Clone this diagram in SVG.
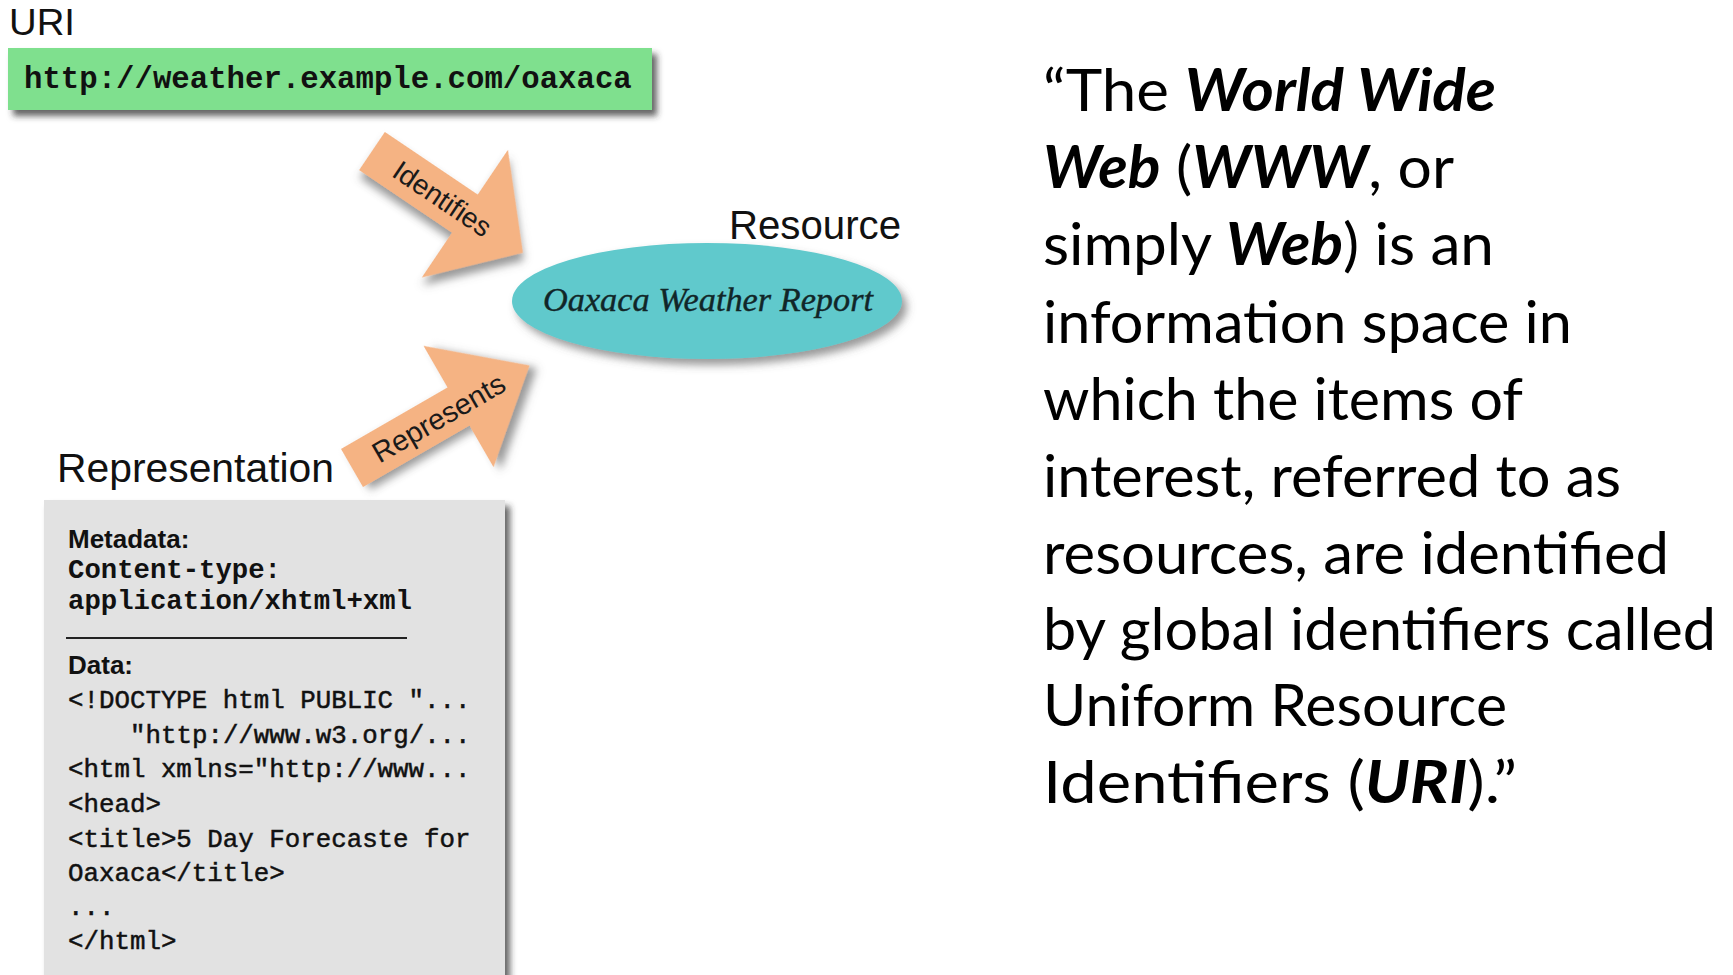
<svg xmlns="http://www.w3.org/2000/svg" width="1733" height="975" viewBox="0 0 1733 975">
  <defs>
    <filter id="shadow" x="-20%" y="-20%" width="150%" height="160%">
      <feDropShadow dx="5" dy="6" stdDeviation="3" flood-color="#333" flood-opacity="0.75"/>
    </filter>
    <filter id="softshadow" x="-20%" y="-20%" width="150%" height="160%">
      <feDropShadow dx="5" dy="6" stdDeviation="4" flood-color="#555" flood-opacity="0.6"/>
    </filter>
    <style>
      .lbl { font-family: "Liberation Sans", Arial, sans-serif; fill: #111; }
      .mono { font-family: "Liberation Mono", "Courier New", monospace; fill: #111; }
      .code { stroke: #111; stroke-width: 0.5; }
      .arrow { fill: #f5b383; filter: url(#softshadow); }
      .arrowtxt { font-family: "Liberation Sans", Arial, sans-serif; fill: #1a1a1a; text-anchor: middle; }
      .quote { font-family: Lato, "Open Sans", sans-serif; font-size: 59px; fill: #000; }
      .bi { font-weight: bold; font-style: italic; }
    </style>
  </defs>
  <rect width="1733" height="975" fill="#fff"/>

  <g id="node-uri">
    <text class="lbl" x="9" y="35" font-size="37" textLength="66" lengthAdjust="spacingAndGlyphs">URI</text>
    <rect x="8" y="48" width="644" height="62" fill="#7fe08e" filter="url(#shadow)"/>
    <text class="mono" x="24" y="88" font-size="30.7" font-weight="bold">http://weather.example.com/oaxaca</text>
  </g>

  <g id="node-resource">
    <text class="lbl" x="729" y="239" font-size="40" textLength="172" lengthAdjust="spacingAndGlyphs">Resource</text>
    <ellipse cx="707" cy="301" rx="195" ry="58" fill="#60c9cc" filter="url(#softshadow)"/>
    <text x="543" y="311" font-family="'Liberation Serif', 'Times New Roman', serif" font-style="italic" font-size="34" fill="#112628" stroke="#112628" stroke-width="0.4" textLength="330" lengthAdjust="spacingAndGlyphs">Oaxaca Weather Report</text>
  </g>

  <g id="node-representation">
    <text class="lbl" x="57" y="482" font-size="41" textLength="277" lengthAdjust="spacingAndGlyphs">Representation</text>
    <rect x="44" y="500" width="461" height="500" fill="#e2e2e2" filter="url(#shadow)"/>
    <text class="lbl" x="68" y="548" font-size="26" font-weight="bold">Metadata:</text>
    <text class="mono" x="68" y="578" font-size="27.3" font-weight="bold">Content-type:</text>
    <text class="mono" x="68" y="609" font-size="27.3" font-weight="bold">application/xhtml+xml</text>
    <line x1="66" y1="638" x2="407" y2="638" stroke="#222" stroke-width="2"/>
    <text class="lbl" x="68" y="674" font-size="26" font-weight="bold">Data:</text>
    <g class="mono code" font-size="25.8">
      <text x="68" y="708">&lt;!DOCTYPE html PUBLIC "...</text>
      <text x="130" y="743">"http://www.w3.org/...</text>
      <text x="68" y="777">&lt;html xmlns="http://www...</text>
      <text x="68" y="812">&lt;head&gt;</text>
      <text x="68" y="847">&lt;title&gt;5 Day Forecaste for</text>
      <text x="68" y="881">Oaxaca&lt;/title&gt;</text>
      <text x="68" y="915">...</text>
      <text x="68" y="949">&lt;/html&gt;</text>
    </g>
  </g>

  <g id="connectors">
    <g id="edge-identifies" transform="translate(372,151) rotate(34)">
      <path class="arrow" d="M0,-23 L112,-23 L112,-77 L182,0 L112,77 L112,23 L0,23 Z"/>
      <text class="arrowtxt" x="85" y="10" font-size="28">Identifies</text>
    </g>
    <g id="edge-represents" transform="translate(352,468) rotate(-30)">
      <path class="arrow" d="M0,-22 L123,-22 L123,-70 L205,0 L123,70 L123,22 L0,22 Z"/>
      <text class="arrowtxt" x="100" y="10" font-size="29">Represents</text>
    </g>
  </g>

  <g id="quote" class="quote">
    <text x="1043" y="111" textLength="453" lengthAdjust="spacingAndGlyphs">“The <tspan class="bi">World Wide</tspan></text>
    <text x="1043" y="188" textLength="411" lengthAdjust="spacingAndGlyphs"><tspan class="bi">Web</tspan> (<tspan class="bi">WWW</tspan>, or</text>
    <text x="1043" y="265" textLength="451" lengthAdjust="spacingAndGlyphs">simply <tspan class="bi">Web</tspan>) is an</text>
    <text x="1043" y="343" textLength="529" lengthAdjust="spacingAndGlyphs">information space in</text>
    <text x="1043" y="420" textLength="480" lengthAdjust="spacingAndGlyphs">which the items of</text>
    <text x="1043" y="497" textLength="578" lengthAdjust="spacingAndGlyphs">interest, referred to as</text>
    <text x="1043" y="574" textLength="626" lengthAdjust="spacingAndGlyphs">resources, are identified</text>
    <text x="1043" y="650" textLength="673" lengthAdjust="spacingAndGlyphs">by global identifiers called</text>
    <text x="1043" y="726" textLength="464" lengthAdjust="spacingAndGlyphs">Uniform Resource</text>
    <text x="1043" y="803" textLength="474" lengthAdjust="spacingAndGlyphs">Identifiers (<tspan class="bi">URI</tspan>).”</text>
  </g>
</svg>
